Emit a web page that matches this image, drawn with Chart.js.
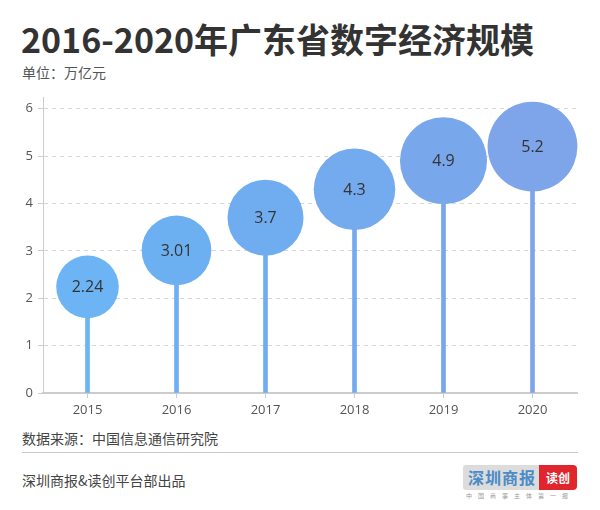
<!DOCTYPE html>
<html>
<head>
<meta charset="utf-8">
<script src="https://cdn.jsdelivr.net/npm/chart.js@4.4.0/dist/chart.umd.min.js"></script>
<style>
  body { margin: 0; background: #fff; font-family: "Noto Sans CJK SC", "Noto Sans", sans-serif; }
  #page { position: relative; width: 600px; height: 510px; overflow: hidden; }
  .title { position: absolute; left: 21px; top: 16px; font-size: 34px; font-weight: bold; color: #333; line-height: 46px; white-space: nowrap; }
  .unit { position: absolute; left: 22px; top: 62px; font-size: 14px; color: #555; line-height: 20px; }
  #chartBox { position: absolute; left: 0; top: 85px; width: 600px; height: 340px; }
  .source { position: absolute; left: 22px; top: 428px; font-size: 14px; color: #444; line-height: 20px; }
  .sep { position: absolute; left: 22px; top: 452px; width: 556px; height: 0; border-top: 1px solid #c8c8c8; }
  .maker { position: absolute; left: 22px; top: 470px; font-size: 14px; color: #444; line-height: 20px; }
  .logo { position: absolute; left: 463px; top: 465px; width: 114px; height: 25px; }
  .logo .grey { position: absolute; left: 0; top: 0; width: 78px; height: 25px; background: #dcdcdc; border-radius: 3px 0 0 3px; color: #4a8bc8; font-size: 16px; font-weight: bold; line-height: 25px; text-align: center; letter-spacing: 1px; }
  .logo .red { position: absolute; left: 76px; top: 0; width: 38px; height: 25px; background: #e0262c; border-radius: 0 4px 4px 0; color: #fff; font-size: 12px; font-weight: bold; line-height: 25px; text-align: center; }
  .logo .tag { position: absolute; left: 0; top: 27px; width: 114px; font-size: 6px; color: #999; text-align: center; letter-spacing: 6px; line-height: 8px; }
</style>
</head>
<body>
<div id="page">
  <div class="title">2016-2020年广东省数字经济规模</div>
  <div class="unit">单位：万亿元</div>
  <div id="chartBox"><canvas id="scaleChart"></canvas></div>
  <div class="source">数据来源：中国信息通信研究院</div>
  <div class="sep"></div>
  <div class="maker">深圳商报&amp;读创平台部出品</div>
  <div class="logo">
    <div class="grey">深圳商报</div>
    <div class="red">读创</div>
    <div class="tag">中国商事主体第一报</div>
  </div>
</div>
<script>
  // values (万亿元)
  const years = ['2015', '2016', '2017', '2018', '2019', '2020'];
  const scaleValues = [2.24, 3.01, 3.7, 4.3, 4.9, 5.2];
  const valueLabels = ['2.24', '3.01', '3.7', '4.3', '4.9', '5.2'];
  const yTicks = [0, 1, 2, 3, 4, 5, 6];

  const bubbleColors = ['#6cb4f4', '#6db0f2', '#70adf0', '#74aaee', '#79a7ec', '#7ea5ea'];

  Chart.defaults.font.family = '"Open Sans", "Noto Sans CJK SC", sans-serif';

  // writes the value in the middle of each bubble
  const bubbleText = {
    id: 'bubbleText',
    afterDatasetsDraw(chart) {
      const ctx = chart.ctx;
      const meta = chart.getDatasetMeta(1);
      ctx.save();
      ctx.font = '16px "Open Sans", "Noto Sans", sans-serif';
      ctx.fillStyle = '#333';
      ctx.textAlign = 'center';
      ctx.textBaseline = 'middle';
      meta.data.forEach(function(pt, i) {
        ctx.fillText(valueLabels[i], pt.x, pt.y + 1);
      });
      ctx.restore();
    }
  };

  const ctx = document.getElementById('scaleChart').getContext('2d');
  const scaleChart = new Chart(ctx, {
    type: 'bar',
    data: {
      labels: years,
      datasets: [{
        type: 'bar',
        data: scaleValues,
        backgroundColor: bubbleColors,
        barThickness: 4,
        order: 2
      }, {
        type: 'line',
        data: scaleValues,
        showLine: false,
        pointRadius: c => 21 + 4.6 * c.raw,
        pointHoverRadius: c => 21 + 4.6 * c.raw,
        pointBackgroundColor: bubbleColors,
        pointBorderWidth: 0,
        clip: false,
        order: 1
      }]
    },
    options: {
      responsive: true,
      maintainAspectRatio: false,
      animation: false,
      layout: { autoPadding: false, padding: { top: 10, right: 23, bottom: 2, left: 0 } },
      plugins: { legend: { display: false }, tooltip: { enabled: false } },
      scales: {
        x: {
          afterFit: s => { s.height = 30; },
          grid: { drawOnChartArea: false, offset: false, tickLength: 5, color: '#cccccc' },
          border: { color: '#cccccc', width: 2 },
          ticks: { color: '#555', font: { size: 13 }, padding: 4 }
        },
        y: {
          min: 0,
          max: 6.23,
          afterFit: s => { s.width = 43; },
          afterBuildTicks: s => { s.ticks = yTicks.map(v => ({ value: v })); },
          grid: { color: '#d6d6d6', tickLength: 5, tickColor: '#cccccc', tickBorderDash: [] },
          border: { color: '#cccccc', width: 1, dash: [4, 4] },
          ticks: { color: '#555', font: { size: 13 }, padding: 5 }
        }
      }
    },
    plugins: [bubbleText]
  });
</script>
</body>
</html>
